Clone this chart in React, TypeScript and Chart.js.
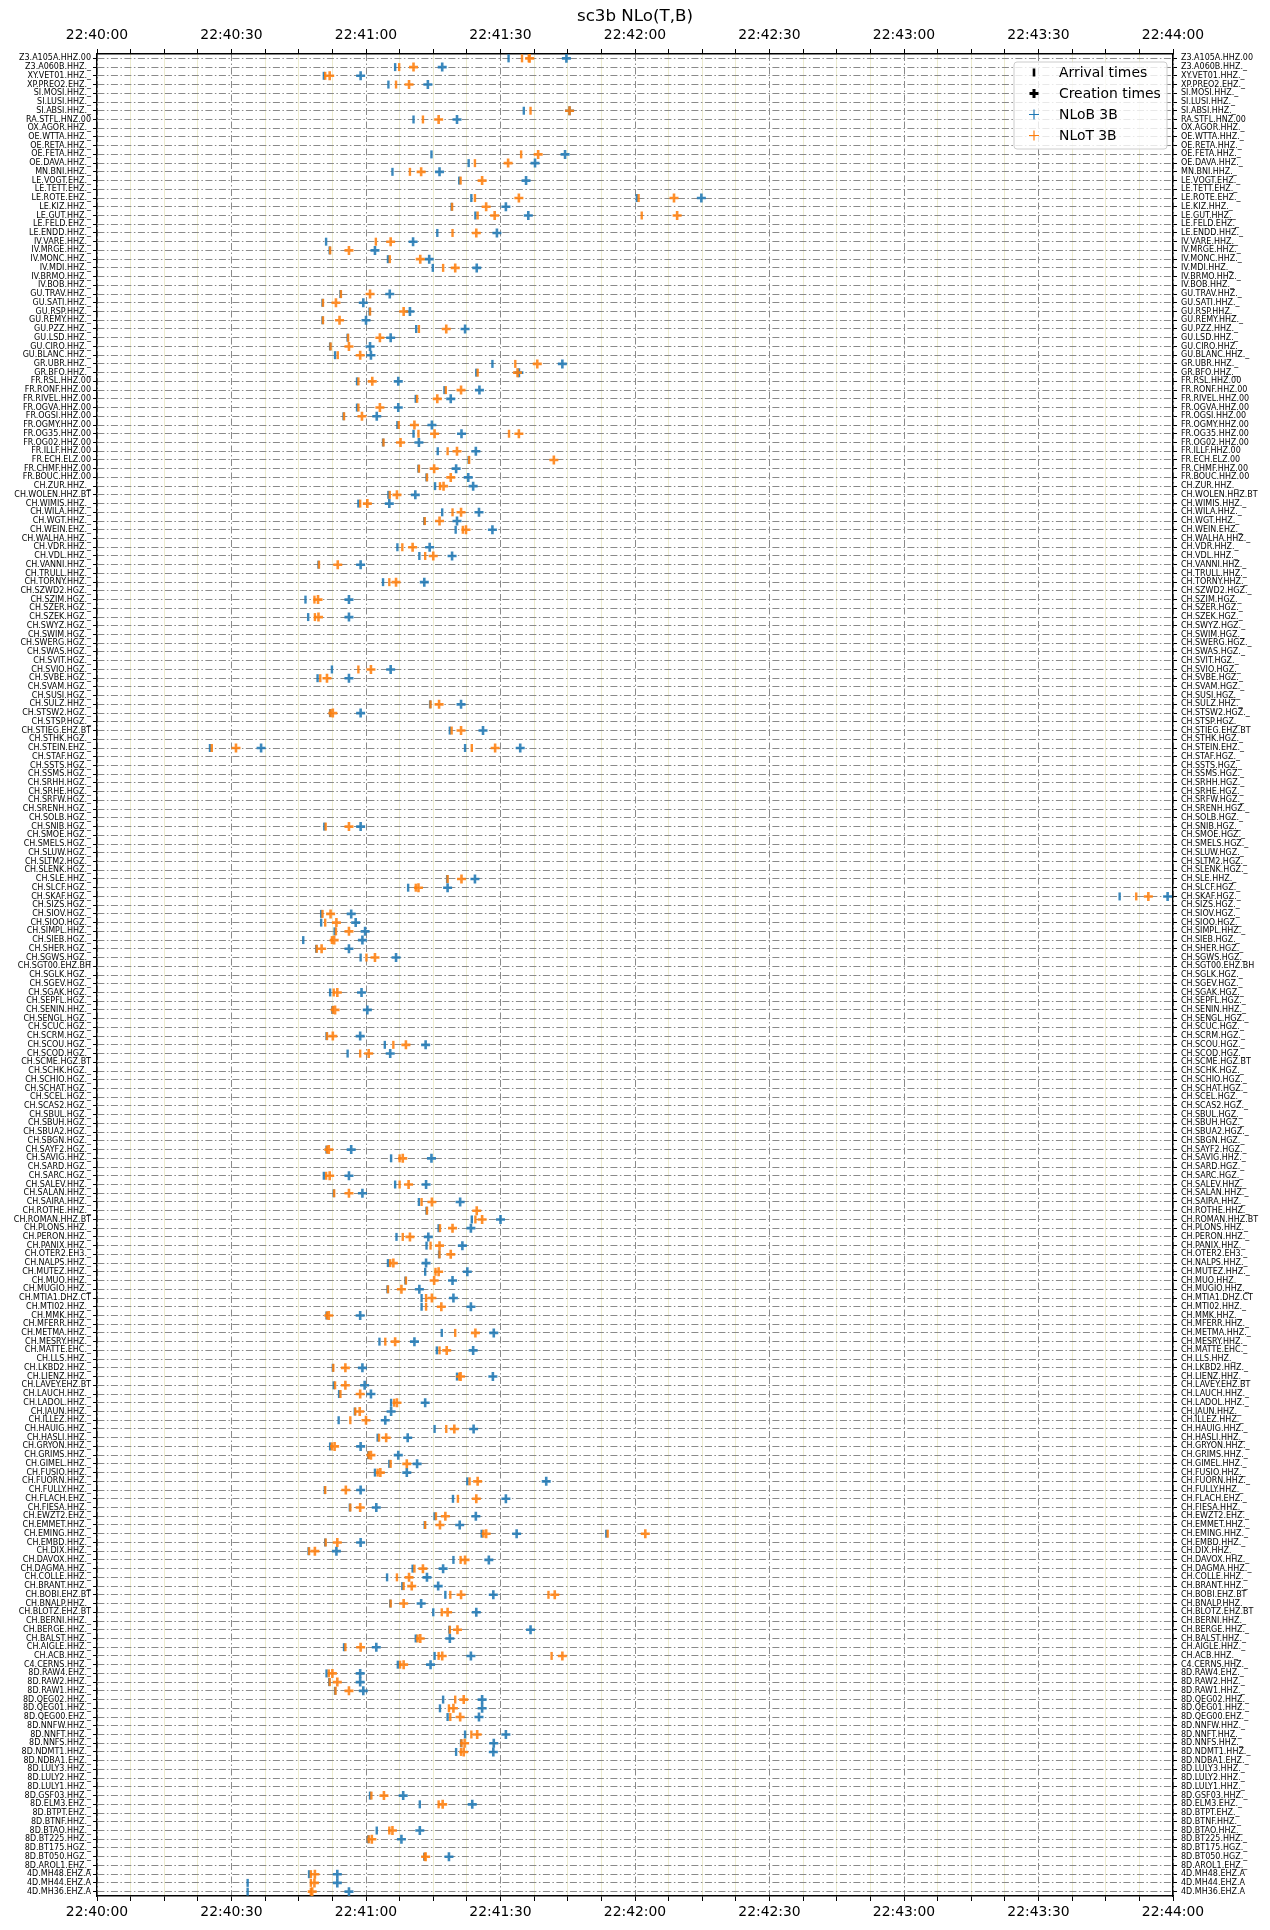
import React, { useEffect, useRef } from "react";
import { Chart, registerables } from "chart.js";

Chart.register(...registerables);

// Station rows, listed top to bottom
const stations: string[] = [
  "Z3.A105A.HHZ.00", "Z3.A060B.HHZ._", "XY.VET01.HHZ._", "XP.PREO2.EHZ._", "SI.MOSI.HHZ._",
  "SI.LUSI.HHZ._", "SI.ABSI.HHZ._", "RA.STFL.HNZ.00", "OX.AGOR.HHZ._", "OE.WTTA.HHZ._",
  "OE.RETA.HHZ._", "OE.FETA.HHZ._", "OE.DAVA.HHZ._", "MN.BNI.HHZ._", "LE.VOGT.EHZ._",
  "LE.TETT.EHZ._", "LE.ROTE.EHZ._", "LE.KIZ.HHZ._", "LE.GUT.HHZ._", "LE.FELD.EHZ._",
  "LE.ENDD.HHZ._", "IV.VARE.HHZ._", "IV.MRGE.HHZ._", "IV.MONC.HHZ._", "IV.MDI.HHZ._",
  "IV.BRMO.HHZ._", "IV.BOB.HHZ._", "GU.TRAV.HHZ._", "GU.SATI.HHZ._", "GU.RSP.HHZ._",
  "GU.REMY.HHZ._", "GU.PZZ.HHZ._", "GU.LSD.HHZ._", "GU.CIRO.HHZ._", "GU.BLANC.HHZ._",
  "GR.UBR.HHZ._", "GR.BFO.HHZ._", "FR.RSL.HHZ.00", "FR.RONF.HHZ.00", "FR.RIVEL.HHZ.00",
  "FR.OGVA.HHZ.00", "FR.OGSI.HHZ.00", "FR.OGMY.HHZ.00", "FR.OG35.HHZ.00", "FR.OG02.HHZ.00",
  "FR.ILLF.HHZ.00", "FR.ECH.ELZ.00", "FR.CHMF.HHZ.00", "FR.BOUC.HHZ.00", "CH.ZUR.HHZ._",
  "CH.WOLEN.HHZ.BT", "CH.WIMIS.HHZ._", "CH.WILA.HHZ._", "CH.WGT.HHZ._", "CH.WEIN.EHZ._",
  "CH.WALHA.HHZ._", "CH.VDR.HHZ._", "CH.VDL.HHZ._", "CH.VANNI.HHZ._", "CH.TRULL.HHZ._",
  "CH.TORNY.HHZ._", "CH.SZWD2.HGZ._", "CH.SZIM.HGZ._", "CH.SZER.HGZ._", "CH.SZEK.HGZ._",
  "CH.SWYZ.HGZ._", "CH.SWIM.HGZ._", "CH.SWERG.HGZ._", "CH.SWAS.HGZ._", "CH.SVIT.HGZ._",
  "CH.SVIO.HGZ._", "CH.SVBE.HGZ._", "CH.SVAM.HGZ._", "CH.SUSI.HGZ._", "CH.SULZ.HHZ._",
  "CH.STSW2.HGZ._", "CH.STSP.HGZ._", "CH.STIEG.EHZ.BT", "CH.STHK.HGZ._", "CH.STEIN.EHZ._",
  "CH.STAF.HGZ._", "CH.SSTS.HGZ._", "CH.SSMS.HGZ._", "CH.SRHH.HGZ._", "CH.SRHE.HGZ._",
  "CH.SRFW.HGZ._", "CH.SRENH.HGZ._", "CH.SOLB.HGZ._", "CH.SNIB.HGZ._", "CH.SMOE.HGZ._",
  "CH.SMELS.HGZ._", "CH.SLUW.HGZ._", "CH.SLTM2.HGZ._", "CH.SLENK.HGZ._", "CH.SLE.HHZ._",
  "CH.SLCF.HGZ._", "CH.SKAF.HGZ._", "CH.SIZS.HGZ._", "CH.SIOV.HGZ._", "CH.SIOO.HGZ._",
  "CH.SIMPL.HHZ._", "CH.SIEB.HGZ._", "CH.SHER.HGZ._", "CH.SGWS.HGZ._", "CH.SGT00.EHZ.BH",
  "CH.SGLK.HGZ._", "CH.SGEV.HGZ._", "CH.SGAK.HGZ._", "CH.SEPFL.HGZ._", "CH.SENIN.HHZ._",
  "CH.SENGL.HGZ._", "CH.SCUC.HGZ._", "CH.SCRM.HGZ._", "CH.SCOU.HGZ._", "CH.SCOD.HGZ._",
  "CH.SCME.HGZ.BT", "CH.SCHK.HGZ._", "CH.SCHIO.HGZ._", "CH.SCHAT.HGZ._", "CH.SCEL.HGZ._",
  "CH.SCAS2.HGZ._", "CH.SBUL.HGZ._", "CH.SBUH.HGZ._", "CH.SBUA2.HGZ._", "CH.SBGN.HGZ._",
  "CH.SAYF2.HGZ._", "CH.SAVIG.HHZ._", "CH.SARD.HGZ._", "CH.SARC.HGZ._", "CH.SALEV.HHZ._",
  "CH.SALAN.HHZ._", "CH.SAIRA.HHZ._", "CH.ROTHE.HHZ._", "CH.ROMAN.HHZ.BT", "CH.PLONS.HHZ._",
  "CH.PERON.HHZ._", "CH.PANIX.HHZ._", "CH.OTER2.EH3._", "CH.NALPS.HHZ._", "CH.MUTEZ.HHZ._",
  "CH.MUO.HHZ._", "CH.MUGIO.HHZ._", "CH.MTIA1.DHZ.CT", "CH.MTI02.HHZ._", "CH.MMK.HHZ._",
  "CH.MFERR.HHZ._", "CH.METMA.HHZ._", "CH.MESRY.HHZ._", "CH.MATTE.EHC._", "CH.LLS.HHZ._",
  "CH.LKBD2.HHZ._", "CH.LIENZ.HHZ._", "CH.LAVEY.EHZ.BT", "CH.LAUCH.HHZ._", "CH.LADOL.HHZ._",
  "CH.JAUN.HHZ._", "CH.ILLEZ.HHZ._", "CH.HAUIG.HHZ._", "CH.HASLI.HHZ._", "CH.GRYON.HHZ._",
  "CH.GRIMS.HHZ._", "CH.GIMEL.HHZ._", "CH.FUSIO.HHZ._", "CH.FUORN.HHZ._", "CH.FULLY.HHZ._",
  "CH.FLACH.EHZ._", "CH.FIESA.HHZ._", "CH.EWZT2.EHZ._", "CH.EMMET.HHZ._", "CH.EMING.HHZ._",
  "CH.EMBD.HHZ._", "CH.DIX.HHZ._", "CH.DAVOX.HHZ._", "CH.DAGMA.HHZ._", "CH.COLLE.HHZ._",
  "CH.BRANT.HHZ._", "CH.BOBI.EHZ.BT", "CH.BNALP.HHZ._", "CH.BLOTZ.EHZ.BT", "CH.BERNI.HHZ._",
  "CH.BERGE.HHZ._", "CH.BALST.HHZ._", "CH.AIGLE.HHZ._", "CH.ACB.HHZ._", "C4.CERNS.HHZ._",
  "8D.RAW4.EHZ._", "8D.RAW2.HHZ._", "8D.RAW1.HHZ._", "8D.QEG02.HHZ._", "8D.QEG01.HHZ._",
  "8D.QEG00.EHZ._", "8D.NNFW.HHZ._", "8D.NNFT.HHZ._", "8D.NNFS.HHZ._", "8D.NDMT1.HHZ._",
  "8D.NDBA1.EHZ._", "8D.LULY3.HHZ._", "8D.LULY2.HHZ._", "8D.LULY1.HHZ._", "8D.GSF03.HHZ._",
  "8D.ELM3.EHZ._", "8D.BTPT.EHZ._", "8D.BTNF.HHZ._", "8D.BTAO.HHZ._", "8D.BT225.HHZ._",
  "8D.BT175.HGZ._", "8D.BT050.HGZ._", "8D.AROL1.EHZ._", "4D.MH48.EHZ.A", "4D.MH44.EHZ.A",
  "4D.MH36.EHZ.A",
];

// Seconds after 22:40:00
const arrivalB: Record<string, number[]> = {
  "Z3.A105A.HHZ.00": [91.8], "Z3.A060B.HHZ._": [66.5], "XY.VET01.HHZ._": [50.6], "XP.PREO2.EHZ._": [65.0],
  "SI.ABSI.HHZ._": [95.2], "RA.STFL.HNZ.00": [70.6], "OE.FETA.HHZ._": [74.6], "OE.DAVA.HHZ._": [82.9],
  "MN.BNI.HHZ._": [65.9], "LE.VOGT.EHZ._": [80.8], "LE.ROTE.EHZ._": [83.5, 120.4], "LE.KIZ.HHZ._": [79.1],
  "LE.GUT.HHZ._": [84.4], "LE.ENDD.HHZ._": [75.9], "IV.VARE.HHZ._": [51.1], "IV.MRGE.HHZ._": [51.9],
  "IV.MONC.HHZ._": [64.9], "IV.MDI.HHZ._": [74.9], "GU.TRAV.HHZ._": [54.3], "GU.SATI.HHZ._": [50.3],
  "GU.RSP.HHZ._": [60.8], "GU.REMY.HHZ._": [50.3], "GU.PZZ.HHZ._": [71.2], "GU.LSD.HHZ._": [55.9],
  "GU.CIRO.HHZ._": [52.0], "GU.BLANC.HHZ._": [53.1], "GR.UBR.HHZ._": [88.2], "GR.BFO.HHZ._": [84.6],
  "FR.RSL.HHZ.00": [58.0], "FR.RONF.HHZ.00": [77.5], "FR.RIVEL.HHZ.00": [71.1], "FR.OGVA.HHZ.00": [58.0],
  "FR.OGSI.HHZ.00": [55.0], "FR.OGMY.HHZ.00": [67.0], "FR.OG35.HHZ.00": [70.6], "FR.OG02.HHZ.00": [63.8],
  "FR.ILLF.HHZ.00": [76.0], "FR.ECH.ELZ.00": [82.9], "FR.CHMF.HHZ.00": [71.7], "FR.BOUC.HHZ.00": [73.5],
  "CH.ZUR.HHZ._": [75.4], "CH.WOLEN.HHZ.BT": [65.0], "CH.WIMIS.HHZ._": [58.3], "CH.WILA.HHZ._": [77.0],
  "CH.WGT.HHZ._": [73.0], "CH.WEIN.EHZ._": [80.0], "CH.VDR.HHZ._": [67.0], "CH.VDL.HHZ._": [71.9],
  "CH.VANNI.HHZ._": [49.4], "CH.TORNY.HHZ._": [63.8], "CH.SZIM.HGZ._": [46.5], "CH.SZEK.HGZ._": [47.1],
  "CH.SVIO.HGZ._": [52.4], "CH.SVBE.HGZ._": [49.2], "CH.SULZ.HHZ._": [74.3], "CH.STSW2.HGZ._": [52.0],
  "CH.STIEG.EHZ.BT": [78.7], "CH.STEIN.EHZ._": [25.2, 82.1], "CH.SNIB.HGZ._": [50.7], "CH.SLE.HHZ._": [78.1],
  "CH.SLCF.HGZ._": [69.4], "CH.SKAF.HGZ._": [228.1], "CH.SIOV.HGZ._": [50.0], "CH.SIOO.HGZ._": [50.0],
  "CH.SIMPL.HHZ._": [53.0], "CH.SIEB.HGZ._": [46.0], "CH.SHER.HGZ._": [48.9], "CH.SGWS.HGZ._": [58.8],
  "CH.SGAK.HGZ._": [52.0], "CH.SENIN.HHZ._": [52.5], "CH.SCRM.HGZ._": [51.2], "CH.SCOU.HGZ._": [64.2],
  "CH.SCOD.HGZ._": [55.9], "CH.SAYF2.HGZ._": [51.2], "CH.SAVIG.HHZ._": [65.6], "CH.SARC.HGZ._": [50.6],
  "CH.SALEV.HHZ._": [66.5], "CH.SALAN.HHZ._": [52.8], "CH.SAIRA.HHZ._": [71.8], "CH.ROTHE.HHZ._": [73.5],
  "CH.ROMAN.HHZ.BT": [83.6], "CH.PLONS.HHZ._": [76.2], "CH.PERON.HHZ._": [66.8], "CH.PANIX.HHZ._": [73.5],
  "CH.OTER2.EH3._": [76.3], "CH.NALPS.HHZ._": [64.9], "CH.MUTEZ.HHZ._": [73.2], "CH.MUO.HHZ._": [68.8],
  "CH.MUGIO.HHZ._": [64.8], "CH.MTIA1.DHZ.CT": [72.4], "CH.MTI02.HHZ._": [72.4], "CH.MMK.HHZ._": [51.2],
  "CH.METMA.HHZ._": [76.9], "CH.MESRY.HHZ._": [63.0], "CH.MATTE.EHC._": [75.8], "CH.LKBD2.HHZ._": [52.6],
  "CH.LIENZ.HHZ._": [80.3], "CH.LAVEY.EHZ.BT": [52.8], "CH.LAUCH.HHZ._": [54.0], "CH.LADOL.HHZ._": [65.6],
  "CH.JAUN.HHZ._": [57.5], "CH.ILLEZ.HHZ._": [53.9], "CH.HAUIG.HHZ._": [75.3], "CH.HASLI.HHZ._": [62.6],
  "CH.GRYON.HHZ._": [52.0], "CH.GRIMS.HHZ._": [60.5], "CH.GIMEL.HHZ._": [65.2], "CH.FUSIO.HHZ._": [62.0],
  "CH.FUORN.HHZ._": [82.6], "CH.FULLY.HHZ._": [50.8], "CH.FLACH.EHZ._": [79.4], "CH.FIESA.HHZ._": [56.4],
  "CH.EWZT2.EHZ._": [75.3], "CH.EMMET.HHZ._": [73.1], "CH.EMING.HHZ._": [85.8, 113.6], "CH.EMBD.HHZ._": [50.9],
  "CH.DIX.HHZ._": [47.2], "CH.DAVOX.HHZ._": [79.5], "CH.DAGMA.HHZ._": [70.4], "CH.COLLE.HHZ._": [64.7],
  "CH.BRANT.HHZ._": [68.1], "CH.BOBI.EHZ.BT": [77.7], "CH.BNALP.HHZ._": [65.4], "CH.BLOTZ.EHZ.BT": [75.0],
  "CH.BERGE.HHZ._": [78.6], "CH.BALST.HHZ._": [71.1], "CH.AIGLE.HHZ._": [55.1], "CH.ACB.HHZ._": [75.3],
  "C4.CERNS.HHZ._": [67.1], "8D.RAW4.EHZ._": [51.2], "8D.RAW2.HHZ._": [51.8], "8D.RAW1.HHZ._": [53.1],
  "8D.QEG02.HHZ._": [77.2], "8D.QEG01.HHZ._": [76.5], "8D.QEG00.EHZ._": [78.2], "8D.NNFT.HHZ._": [82.1],
  "8D.NNFS.HHZ._": [81.2], "8D.NDMT1.HHZ._": [80.1], "8D.GSF03.HHZ._": [60.9], "8D.ELM3.EHZ._": [72.0],
  "8D.BTAO.HHZ._": [62.4], "8D.BT225.HHZ._": [60.5], "8D.BT050.HGZ._": [73.0], "4D.MH48.EHZ.A": [47.3],
  "4D.MH44.EHZ.A": [33.6], "4D.MH36.EHZ.A": [33.6],
};

const arrivalT: Record<string, number[]> = {
  "Z3.A105A.HHZ.00": [94.8, 96.3], "Z3.A060B.HHZ._": [67.4], "XY.VET01.HHZ._": [50.9], "XP.PREO2.EHZ._": [66.7],
  "SI.ABSI.HHZ._": [96.7], "RA.STFL.HNZ.00": [72.7], "OE.FETA.HHZ._": [94.6], "OE.DAVA.HHZ._": [84.3],
  "MN.BNI.HHZ._": [69.8], "LE.VOGT.EHZ._": [81.1], "LE.ROTE.EHZ._": [84.3, 120.8], "LE.KIZ.HHZ._": [79.2],
  "LE.GUT.HHZ._": [84.9, 121.5], "LE.ENDD.HHZ._": [79.3], "IV.VARE.HHZ._": [62.2], "IV.MRGE.HHZ._": [52.0],
  "IV.MONC.HHZ._": [65.3], "IV.MDI.HHZ._": [77.2], "GU.TRAV.HHZ._": [54.4], "GU.SATI.HHZ._": [50.4],
  "GU.RSP.HHZ._": [60.9], "GU.REMY.HHZ._": [50.4], "GU.PZZ.HHZ._": [71.8], "GU.LSD.HHZ._": [56.0],
  "GU.CIRO.HHZ._": [52.1], "GU.BLANC.HHZ._": [53.7], "GR.UBR.HHZ._": [93.3], "GR.BFO.HHZ._": [84.9],
  "FR.RSL.HHZ.00": [58.3], "FR.RONF.HHZ.00": [77.8], "FR.RIVEL.HHZ.00": [71.4], "FR.OGVA.HHZ.00": [58.3],
  "FR.OGSI.HHZ.00": [55.1], "FR.OGMY.HHZ.00": [67.3], "FR.OG35.HHZ.00": [71.7, 91.9], "FR.OG02.HHZ.00": [63.9],
  "FR.ILLF.HHZ.00": [78.2], "FR.ECH.ELZ.00": [83.0], "FR.CHMF.HHZ.00": [71.8], "FR.BOUC.HHZ.00": [73.6],
  "CH.ZUR.HHZ._": [76.5], "CH.WOLEN.HHZ.BT": [65.3], "CH.WIMIS.HHZ._": [58.7], "CH.WILA.HHZ._": [79.3],
  "CH.WGT.HHZ._": [73.1], "CH.WEIN.EHZ._": [81.6], "CH.VDR.HHZ._": [68.1], "CH.VDL.HHZ._": [73.2],
  "CH.VANNI.HHZ._": [49.5], "CH.TORNY.HHZ._": [65.2], "CH.SZIM.HGZ._": [48.5], "CH.SZEK.HGZ._": [48.6],
  "CH.SVIO.HGZ._": [58.3], "CH.SVBE.HGZ._": [49.8], "CH.SULZ.HHZ._": [74.4], "CH.STSW2.HGZ._": [52.1],
  "CH.STIEG.EHZ.BT": [79.1], "CH.STEIN.EHZ._": [25.6, 83.6], "CH.SNIB.HGZ._": [51.0], "CH.SLE.HHZ._": [78.2],
  "CH.SLCF.HGZ._": [71.1], "CH.SKAF.HGZ._": [231.8], "CH.SIOV.HGZ._": [50.3], "CH.SIOO.HGZ._": [50.9],
  "CH.SIMPL.HHZ._": [53.3], "CH.SIEB.HGZ._": [52.4], "CH.SHER.HGZ._": [49.0], "CH.SGWS.HGZ._": [60.1],
  "CH.SGAK.HGZ._": [52.8], "CH.SENIN.HHZ._": [52.6], "CH.SCRM.HGZ._": [51.3], "CH.SCOU.HGZ._": [66.1],
  "CH.SCOD.HGZ._": [58.7], "CH.SAYF2.HGZ._": [51.3], "CH.SAVIG.HHZ._": [67.5], "CH.SARC.HGZ._": [51.1],
  "CH.SALEV.HHZ._": [67.5], "CH.SALAN.HHZ._": [52.9], "CH.SAIRA.HHZ._": [72.4], "CH.ROTHE.HHZ._": [73.6],
  "CH.ROMAN.HHZ.BT": [84.4], "CH.PLONS.HHZ._": [76.5], "CH.PERON.HHZ._": [68.2], "CH.PANIX.HHZ._": [74.4],
  "CH.OTER2.EH3._": [76.4], "CH.NALPS.HHZ._": [65.4], "CH.MUTEZ.HHZ._": [75.5], "CH.MUO.HHZ._": [68.9],
  "CH.MUGIO.HHZ._": [64.9], "CH.MTIA1.DHZ.CT": [73.4], "CH.MTI02.HHZ._": [73.4], "CH.MMK.HHZ._": [51.3],
  "CH.METMA.HHZ._": [79.9], "CH.MESRY.HHZ._": [64.3], "CH.MATTE.EHC._": [76.4], "CH.LKBD2.HHZ._": [52.7],
  "CH.LIENZ.HHZ._": [80.8], "CH.LAVEY.EHZ.BT": [53.1], "CH.LAUCH.HHZ._": [54.3], "CH.LADOL.HHZ._": [66.3],
  "CH.JAUN.HHZ._": [57.6], "CH.ILLEZ.HHZ._": [56.5], "CH.HAUIG.HHZ._": [77.9], "CH.HASLI.HHZ._": [62.9],
  "CH.GRYON.HHZ._": [52.4], "CH.GRIMS.HHZ._": [60.6], "CH.GIMEL.HHZ._": [65.5], "CH.FUSIO.HHZ._": [62.6],
  "CH.FUORN.HHZ._": [83.1], "CH.FULLY.HHZ._": [50.9], "CH.FLACH.EHZ._": [80.5], "CH.FIESA.HHZ._": [56.5],
  "CH.EWZT2.EHZ._": [75.6], "CH.EMMET.HHZ._": [73.2], "CH.EMING.HHZ._": [86.2, 113.9], "CH.EMBD.HHZ._": [51.0],
  "CH.DIX.HHZ._": [47.3], "CH.DAVOX.HHZ._": [81.1], "CH.DAGMA.HHZ._": [70.8], "CH.COLLE.HHZ._": [66.9],
  "CH.BRANT.HHZ._": [68.4], "CH.BOBI.EHZ.BT": [78.8, 100.7], "CH.BNALP.HHZ._": [65.5], "CH.BLOTZ.EHZ.BT": [76.9],
  "CH.BERGE.HHZ._": [78.7], "CH.BALST.HHZ._": [71.5], "CH.AIGLE.HHZ._": [55.4], "CH.ACB.HHZ._": [76.2, 101.4],
  "C4.CERNS.HHZ._": [67.6], "8D.RAW4.EHZ._": [51.7], "8D.RAW2.HHZ._": [51.9], "8D.RAW1.HHZ._": [53.2],
  "8D.QEG02.HHZ._": [79.9], "8D.QEG01.HHZ._": [78.5], "8D.QEG00.EHZ._": [78.8], "8D.NNFT.HHZ._": [83.5],
  "8D.NNFS.HHZ._": [81.3], "8D.NDMT1.HHZ._": [81.2], "8D.GSF03.HHZ._": [61.2], "8D.ELM3.EHZ._": [76.2],
  "8D.BTAO.HHZ._": [65.2], "8D.BT225.HHZ._": [60.6], "8D.BT050.HGZ._": [73.1], "4D.MH48.EHZ.A": [47.7],
  "4D.MH44.EHZ.A": [47.7], "4D.MH36.EHZ.A": [47.7],
};

const creationT: Record<string, number[]> = {
  "Z3.A105A.HHZ.00": [96.5], "Z3.A060B.HHZ._": [70.6], "XY.VET01.HHZ._": [51.9], "XP.PREO2.EHZ._": [69.6],
  "SI.ABSI.HHZ._": [105.4], "RA.STFL.HNZ.00": [76.2], "OE.FETA.HHZ._": [98.4], "OE.DAVA.HHZ._": [91.7],
  "MN.BNI.HHZ._": [72.3], "LE.VOGT.EHZ._": [85.9], "LE.ROTE.EHZ._": [94.1, 128.7], "LE.KIZ.HHZ._": [86.8],
  "LE.GUT.HHZ._": [88.7, 129.4], "LE.ENDD.HHZ._": [84.6], "IV.VARE.HHZ._": [65.5], "IV.MRGE.HHZ._": [56.2],
  "IV.MONC.HHZ._": [72.1], "IV.MDI.HHZ._": [79.9], "GU.TRAV.HHZ._": [60.9], "GU.SATI.HHZ._": [53.3],
  "GU.RSP.HHZ._": [68.4], "GU.REMY.HHZ._": [54.1], "GU.PZZ.HHZ._": [77.9], "GU.LSD.HHZ._": [63.1],
  "GU.CIRO.HHZ._": [56.2], "GU.BLANC.HHZ._": [58.7], "GR.UBR.HHZ._": [98.2], "GR.BFO.HHZ._": [93.8],
  "FR.RSL.HHZ.00": [61.4], "FR.RONF.HHZ.00": [81.2], "FR.RIVEL.HHZ.00": [75.9], "FR.OGVA.HHZ.00": [63.1],
  "FR.OGSI.HHZ.00": [59.1], "FR.OGMY.HHZ.00": [70.8], "FR.OG35.HHZ.00": [75.3, 94.1], "FR.OG02.HHZ.00": [67.7],
  "FR.ILLF.HHZ.00": [80.3], "FR.ECH.ELZ.00": [101.9], "FR.CHMF.HHZ.00": [75.2], "FR.BOUC.HHZ.00": [78.9],
  "CH.ZUR.HHZ._": [77.3], "CH.WOLEN.HHZ.BT": [66.9], "CH.WIMIS.HHZ._": [60.3], "CH.WILA.HHZ._": [81.2],
  "CH.WGT.HHZ._": [76.4], "CH.WEIN.EHZ._": [82.3], "CH.VDR.HHZ._": [70.4], "CH.VDL.HHZ._": [75.0],
  "CH.VANNI.HHZ._": [53.7], "CH.TORNY.HHZ._": [66.7], "CH.SZIM.HGZ._": [49.3], "CH.SZEK.HGZ._": [49.4],
  "CH.SVIO.HGZ._": [61.1], "CH.SVBE.HGZ._": [51.3], "CH.SULZ.HHZ._": [76.3], "CH.STSW2.HGZ._": [52.6],
  "CH.STIEG.EHZ.BT": [81.2], "CH.STEIN.EHZ._": [31.0, 88.8], "CH.SNIB.HGZ._": [56.2], "CH.SLE.HHZ._": [81.3],
  "CH.SLCF.HGZ._": [71.7], "CH.SKAF.HGZ._": [234.5], "CH.SIOV.HGZ._": [52.1], "CH.SIOO.HGZ._": [53.4],
  "CH.SIMPL.HHZ._": [56.2], "CH.SIEB.HGZ._": [52.9], "CH.SHER.HGZ._": [50.1], "CH.SGWS.HGZ._": [62.0],
  "CH.SGAK.HGZ._": [53.6], "CH.SENIN.HHZ._": [53.1], "CH.SCRM.HGZ._": [52.6], "CH.SCOU.HGZ._": [68.9],
  "CH.SCOD.HGZ._": [60.6], "CH.SAYF2.HGZ._": [51.7], "CH.SAVIG.HHZ._": [68.2], "CH.SARC.HGZ._": [51.9],
  "CH.SALEV.HHZ._": [69.5], "CH.SALAN.HHZ._": [56.2], "CH.SAIRA.HHZ._": [74.7], "CH.ROTHE.HHZ._": [84.7],
  "CH.ROMAN.HHZ.BT": [85.9], "CH.PLONS.HHZ._": [79.3], "CH.PERON.HHZ._": [69.8], "CH.PANIX.HHZ._": [76.4],
  "CH.OTER2.EH3._": [78.9], "CH.NALPS.HHZ._": [66.1], "CH.MUTEZ.HHZ._": [76.2], "CH.MUO.HHZ._": [75.2],
  "CH.MUGIO.HHZ._": [67.9], "CH.MTIA1.DHZ.CT": [74.7], "CH.MTI02.HHZ._": [76.8], "CH.MMK.HHZ._": [51.7],
  "CH.METMA.HHZ._": [84.4], "CH.MESRY.HHZ._": [66.5], "CH.MATTE.EHC._": [78.0], "CH.LKBD2.HHZ._": [55.4],
  "CH.LIENZ.HHZ._": [81.1], "CH.LAVEY.EHZ.BT": [55.4], "CH.LAUCH.HHZ._": [58.7], "CH.LADOL.HHZ._": [66.9],
  "CH.JAUN.HHZ._": [58.6], "CH.ILLEZ.HHZ._": [60.0], "CH.HAUIG.HHZ._": [79.7], "CH.HASLI.HHZ._": [64.5],
  "CH.GRYON.HHZ._": [53.0], "CH.GRIMS.HHZ._": [61.1], "CH.GIMEL.HHZ._": [69.1], "CH.FUSIO.HHZ._": [63.2],
  "CH.FUORN.HHZ._": [84.9], "CH.FULLY.HHZ._": [55.5], "CH.FLACH.EHZ._": [84.6], "CH.FIESA.HHZ._": [58.7],
  "CH.EWZT2.EHZ._": [77.7], "CH.EMMET.HHZ._": [76.5], "CH.EMING.HHZ._": [86.8, 122.3], "CH.EMBD.HHZ._": [53.6],
  "CH.DIX.HHZ._": [48.6], "CH.DAVOX.HHZ._": [82.1], "CH.DAGMA.HHZ._": [72.7], "CH.COLLE.HHZ._": [69.6],
  "CH.BRANT.HHZ._": [70.2], "CH.BOBI.EHZ.BT": [81.2, 102.1], "CH.BNALP.HHZ._": [68.4], "CH.BLOTZ.EHZ.BT": [78.2],
  "CH.BERGE.HHZ._": [80.4], "CH.BALST.HHZ._": [72.1], "CH.AIGLE.HHZ._": [58.8], "CH.ACB.HHZ._": [77.0, 103.8],
  "C4.CERNS.HHZ._": [68.4], "8D.RAW4.EHZ._": [52.5], "8D.RAW2.HHZ._": [53.6], "8D.RAW1.HHZ._": [56.2],
  "8D.QEG02.HHZ._": [81.8], "8D.QEG01.HHZ._": [79.5], "8D.QEG00.EHZ._": [81.0], "8D.NNFT.HHZ._": [84.8],
  "8D.NNFS.HHZ._": [82.0], "8D.NDMT1.HHZ._": [81.8], "8D.GSF03.HHZ._": [64.0], "8D.ELM3.EHZ._": [77.1],
  "8D.BTAO.HHZ._": [65.9], "8D.BT225.HHZ._": [61.3], "8D.BT050.HGZ._": [73.3], "4D.MH48.EHZ.A": [48.6],
  "4D.MH44.EHZ.A": [48.5], "4D.MH36.EHZ.A": [48.0],
};

const creationB: Record<string, number[]> = {
  "Z3.A105A.HHZ.00": [104.7], "Z3.A060B.HHZ._": [77.0], "XY.VET01.HHZ._": [58.8], "XP.PREO2.EHZ._": [73.8],
  "SI.ABSI.HHZ._": [105.4], "RA.STFL.HNZ.00": [80.3], "OE.FETA.HHZ._": [104.4], "OE.DAVA.HHZ._": [97.7],
  "MN.BNI.HHZ._": [76.4], "LE.VOGT.EHZ._": [95.7], "LE.ROTE.EHZ._": [134.8], "LE.KIZ.HHZ._": [91.2],
  "LE.GUT.HHZ._": [96.2], "LE.ENDD.HHZ._": [89.2], "IV.VARE.HHZ._": [70.5], "IV.MRGE.HHZ._": [62.0],
  "IV.MONC.HHZ._": [74.1], "IV.MDI.HHZ._": [84.7], "GU.TRAV.HHZ._": [65.3], "GU.SATI.HHZ._": [59.4],
  "GU.RSP.HHZ._": [69.8], "GU.REMY.HHZ._": [60.0], "GU.PZZ.HHZ._": [82.1], "GU.LSD.HHZ._": [65.5],
  "GU.CIRO.HHZ._": [60.9], "GU.BLANC.HHZ._": [61.1], "GR.UBR.HHZ._": [103.8], "GR.BFO.HHZ._": [94.1],
  "FR.RSL.HHZ.00": [67.2], "FR.RONF.HHZ.00": [85.3], "FR.RIVEL.HHZ.00": [78.9], "FR.OGVA.HHZ.00": [67.2],
  "FR.OGSI.HHZ.00": [62.4], "FR.OGMY.HHZ.00": [74.7], "FR.OG35.HHZ.00": [81.3], "FR.OG02.HHZ.00": [71.8],
  "FR.ILLF.HHZ.00": [84.5], "FR.CHMF.HHZ.00": [80.1], "FR.BOUC.HHZ.00": [82.8], "CH.ZUR.HHZ._": [83.9],
  "CH.WOLEN.HHZ.BT": [71.0], "CH.WIMIS.HHZ._": [65.2], "CH.WILA.HHZ._": [85.2], "CH.WGT.HHZ._": [80.3],
  "CH.WEIN.EHZ._": [88.2], "CH.VDR.HHZ._": [74.2], "CH.VDL.HHZ._": [79.2], "CH.VANNI.HHZ._": [58.8],
  "CH.TORNY.HHZ._": [73.0], "CH.SZIM.HGZ._": [56.2], "CH.SZEK.HGZ._": [56.2], "CH.SVIO.HGZ._": [65.5],
  "CH.SVBE.HGZ._": [56.2], "CH.SULZ.HHZ._": [81.2], "CH.STSW2.HGZ._": [58.8], "CH.STIEG.EHZ.BT": [86.1],
  "CH.STEIN.EHZ._": [36.6, 94.4], "CH.SNIB.HGZ._": [58.8], "CH.SLE.HHZ._": [84.3], "CH.SLCF.HGZ._": [78.2],
  "CH.SKAF.HGZ._": [238.8], "CH.SIOV.HGZ._": [56.7], "CH.SIOO.HGZ._": [57.7], "CH.SIMPL.HHZ._": [59.8],
  "CH.SIEB.HGZ._": [59.2], "CH.SHER.HGZ._": [56.2], "CH.SGWS.HGZ._": [66.7], "CH.SGAK.HGZ._": [59.0],
  "CH.SENIN.HHZ._": [60.3], "CH.SCRM.HGZ._": [58.7], "CH.SCOU.HGZ._": [73.3], "CH.SCOD.HGZ._": [65.4],
  "CH.SAYF2.HGZ._": [56.7], "CH.SAVIG.HHZ._": [74.6], "CH.SARC.HGZ._": [56.2], "CH.SALEV.HHZ._": [73.4],
  "CH.SALAN.HHZ._": [59.2], "CH.SAIRA.HHZ._": [81.0], "CH.ROMAN.HHZ.BT": [90.0], "CH.PLONS.HHZ._": [83.4],
  "CH.PERON.HHZ._": [73.9], "CH.PANIX.HHZ._": [81.5], "CH.NALPS.HHZ._": [73.4], "CH.MUTEZ.HHZ._": [82.6],
  "CH.MUO.HHZ._": [79.3], "CH.MUGIO.HHZ._": [71.9], "CH.MTIA1.DHZ.CT": [79.5], "CH.MTI02.HHZ._": [83.4],
  "CH.MMK.HHZ._": [58.7], "CH.METMA.HHZ._": [88.5], "CH.MESRY.HHZ._": [70.8], "CH.MATTE.EHC._": [83.9],
  "CH.LKBD2.HHZ._": [59.2], "CH.LIENZ.HHZ._": [88.3], "CH.LAVEY.EHZ.BT": [59.7], "CH.LAUCH.HHZ._": [61.1],
  "CH.LADOL.HHZ._": [73.2], "CH.JAUN.HHZ._": [65.6], "CH.ILLEZ.HHZ._": [64.3], "CH.HAUIG.HHZ._": [84.0],
  "CH.HASLI.HHZ._": [69.3], "CH.GRYON.HHZ._": [58.8], "CH.GRIMS.HHZ._": [67.2], "CH.GIMEL.HHZ._": [71.4],
  "CH.FUSIO.HHZ._": [69.1], "CH.FUORN.HHZ._": [100.2], "CH.FULLY.HHZ._": [58.8], "CH.FLACH.EHZ._": [91.2],
  "CH.FIESA.HHZ._": [62.3], "CH.EWZT2.EHZ._": [84.5], "CH.EMMET.HHZ._": [80.9], "CH.EMING.HHZ._": [93.6],
  "CH.EMBD.HHZ._": [58.8], "CH.DIX.HHZ._": [53.4], "CH.DAVOX.HHZ._": [87.4], "CH.DAGMA.HHZ._": [77.2],
  "CH.COLLE.HHZ._": [73.6], "CH.BRANT.HHZ._": [76.1], "CH.BOBI.EHZ.BT": [88.4], "CH.BNALP.HHZ._": [72.3],
  "CH.BLOTZ.EHZ.BT": [84.6], "CH.BERGE.HHZ._": [96.7], "CH.BALST.HHZ._": [78.7], "CH.AIGLE.HHZ._": [62.3],
  "CH.ACB.HHZ._": [83.4], "C4.CERNS.HHZ._": [74.4], "8D.RAW4.EHZ._": [58.7], "8D.RAW2.HHZ._": [58.7],
  "8D.RAW1.HHZ._": [59.4], "8D.QEG02.HHZ._": [85.9], "8D.QEG01.HHZ._": [85.9], "8D.QEG00.EHZ._": [85.2],
  "8D.NNFT.HHZ._": [91.2], "8D.NNFS.HHZ._": [88.5], "8D.NDMT1.HHZ._": [88.4], "8D.GSF03.HHZ._": [68.3],
  "8D.ELM3.EHZ._": [83.7], "8D.BTAO.HHZ._": [72.0], "8D.BT225.HHZ._": [67.9], "8D.BT050.HGZ._": [78.5],
  "4D.MH48.EHZ.A": [53.6], "4D.MH44.EHZ.A": [53.6], "4D.MH36.EHZ.A": [56.2],
};

// Time axis (seconds after 22:40:00)
const timeMin = 0;
const timeMax = 240;
const majorTimeTicks = [0, 30, 60, 90, 120, 150, 180, 210, 240];
const minorTimeStep = 7.5;
const startClockSeconds = 22 * 3600 + 40 * 60;

const BLUE = "rgba(31,119,180,0.88)";
const ORANGE = "rgba(255,127,14,0.88)";
const GRID_GRAY = "#8a8a8a";
const MINOR_GRID = "#ecebcf";
const DASHDOT = [7, 2.5, 1.5, 2.5];
const FONT = "'DejaVu Sans', 'Liberation Sans', sans-serif";

function clockLabel(sec: number): string {
  const t = startClockSeconds + sec;
  const h = Math.floor(t / 3600);
  const m = Math.floor((t % 3600) / 60);
  const s = Math.round(t % 60);
  const p = (n: number) => String(n).padStart(2, "0");
  return `${p(h)}:${p(m)}:${p(s)}`;
}

function toPoints(rec: Record<string, number[]>) {
  const pts: { x: number; y: number }[] = [];
  stations.forEach((name, i) => {
    (rec[name] || []).forEach((x) => pts.push({ x, y: i }));
  });
  return pts;
}

function allTimeTicks() {
  const out: { value: number }[] = [];
  for (let i = 0; i < majorTimeTicks.length; i++) {
    out.push({ value: majorTimeTicks[i] });
    if (i < majorTimeTicks.length - 1) {
      for (let v = majorTimeTicks[i] + minorTimeStep; v < majorTimeTicks[i + 1] - 1e-6; v += minorTimeStep) {
        out.push({ value: v });
      }
    }
  }
  return out;
}

const isMajor = (v: number) => majorTimeTicks.some((m) => Math.abs(m - v) < 1e-6);

const legendItems = [
  { label: "Arrival times", kind: "bar", color: "#000" },
  { label: "Creation times", kind: "boldplus", color: "#000" },
  { label: "NLoB 3B", kind: "plus", color: "#1f77b4" },
  { label: "NLoT 3B", kind: "plus", color: "#ff7f0e" },
];

const decorPlugin = {
  id: "decor",
  afterDraw(chart: any) {
    const ctx = chart.ctx as CanvasRenderingContext2D;
    const area = chart.chartArea;
    ctx.save();
    // title
    ctx.fillStyle = "#000";
    ctx.font = `16.7px ${FONT}`;
    ctx.textAlign = "center";
    ctx.textBaseline = "middle";
    ctx.fillText("sc3b NLo(T,B)", (area.left + area.right) / 2, 17);

    // legend
    const bx = 1014, by = 62, bw = 153, bh = 87;
    ctx.beginPath();
    const r = 3;
    ctx.moveTo(bx + r, by);
    ctx.lineTo(bx + bw - r, by);
    ctx.quadraticCurveTo(bx + bw, by, bx + bw, by + r);
    ctx.lineTo(bx + bw, by + bh - r);
    ctx.quadraticCurveTo(bx + bw, by + bh, bx + bw - r, by + bh);
    ctx.lineTo(bx + r, by + bh);
    ctx.quadraticCurveTo(bx, by + bh, bx, by + bh - r);
    ctx.lineTo(bx, by + r);
    ctx.quadraticCurveTo(bx, by, bx + r, by);
    ctx.closePath();
    ctx.fillStyle = "rgba(255,255,255,0.8)";
    ctx.fill();
    ctx.strokeStyle = "#cccccc";
    ctx.lineWidth = 1;
    ctx.stroke();

    ctx.font = `13.9px ${FONT}`;
    ctx.textAlign = "left";
    ctx.textBaseline = "middle";
    legendItems.forEach((it, i) => {
      const cy = by + 10.5 + i * 21;
      const mx = 1034;
      ctx.strokeStyle = it.color;
      ctx.lineCap = "butt";
      if (it.kind === "bar") {
        ctx.lineWidth = 2.6;
        ctx.beginPath();
        ctx.moveTo(mx, cy - 4);
        ctx.lineTo(mx, cy + 4);
        ctx.stroke();
      } else if (it.kind === "boldplus") {
        ctx.lineWidth = 3;
        ctx.beginPath();
        ctx.moveTo(mx - 4.5, cy);
        ctx.lineTo(mx + 4.5, cy);
        ctx.moveTo(mx, cy - 4.5);
        ctx.lineTo(mx, cy + 4.5);
        ctx.stroke();
      } else {
        ctx.lineWidth = 1.2;
        ctx.beginPath();
        ctx.moveTo(mx - 5, cy);
        ctx.lineTo(mx + 5, cy);
        ctx.moveTo(mx, cy - 5);
        ctx.lineTo(mx, cy + 5);
        ctx.stroke();
      }
      ctx.fillStyle = "#000";
      ctx.fillText(it.label, 1059, cy + 0.5);
    });
    ctx.restore();
  },
};

export default function App() {
  const canvasRef = useRef<HTMLCanvasElement | null>(null);

  useEffect(() => {
    const canvas = canvasRef.current;
    if (!canvas) return;

    const n = stations.length;
    const yTicks = (scale: any) => {
      scale.ticks = stations.map((_, i) => ({ value: i }));
    };
    const xTicks = (scale: any) => {
      scale.ticks = allTimeTicks();
    };

    const yCommon = {
      type: "linear" as const,
      min: -0.5,
      max: n - 0.5,
      reverse: true,
      afterBuildTicks: yTicks,
      border: { display: true, color: "#000", width: 1.4, dash: DASHDOT },
      ticks: {
        autoSkip: false,
        color: "#000",
        font: { size: 8, family: FONT },
        callback: (v: any) => stations[Math.round(Number(v))] ?? "",
      },
    };

    const xTickOpts = {
      autoSkip: false,
      maxRotation: 0,
      minRotation: 0,
      color: "#000",
      font: { size: 13.9, family: FONT },
      padding: 3,
      callback: (v: any) => (isMajor(Number(v)) ? clockLabel(Number(v)) : ""),
    };

    const xDash = (c: any) => (c && c.tick && !isMajor(c.tick.value) ? [] : DASHDOT);

    const chart = new Chart(canvas, {
      type: "scatter",
      data: {
        datasets: [
          {
            label: "NLoT creation",
            data: toPoints(creationT),
            pointStyle: "cross",
            radius: 4.5,
            borderWidth: 2.6,
            borderColor: ORANGE,
            backgroundColor: ORANGE,
            order: 0,
          },
          {
            label: "NLoT arrival",
            data: toPoints(arrivalT),
            pointStyle: "line",
            rotation: 90,
            radius: 4,
            borderWidth: 2.4,
            borderColor: ORANGE,
            backgroundColor: ORANGE,
            order: 1,
          },
          {
            label: "NLoB creation",
            data: toPoints(creationB),
            pointStyle: "cross",
            radius: 4.5,
            borderWidth: 2.6,
            borderColor: BLUE,
            backgroundColor: BLUE,
            order: 2,
          },
          {
            label: "NLoB arrival",
            data: toPoints(arrivalB),
            pointStyle: "line",
            rotation: 90,
            radius: 4,
            borderWidth: 2.4,
            borderColor: BLUE,
            backgroundColor: BLUE,
            order: 3,
          },
        ] as any,
      },
      options: {
        responsive: false,
        devicePixelRatio: 1,
        animation: false,
        events: [],
        layout: { padding: 0 },
        plugins: {
          legend: { display: false },
          tooltip: { enabled: false },
          title: { display: false },
        },
        scales: {
          x: {
            type: "linear",
            position: "bottom",
            min: timeMin,
            max: timeMax,
            afterBuildTicks: xTicks,
            afterFit: (s: any) => {
              s.height = 34;
            },
            grid: {
              display: true,
              drawOnChartArea: true,
              drawTicks: true,
              tickLength: 5,
              lineWidth: 1,
              color: (c: any) => (c.tick && !isMajor(c.tick.value) ? MINOR_GRID : GRID_GRAY),
              tickColor: "#000",
            },
            border: { display: true, color: "#000", width: 1.4, dash: xDash },
            ticks: xTickOpts,
          },
          x2: {
            type: "linear",
            position: "top",
            min: timeMin,
            max: timeMax,
            afterBuildTicks: xTicks,
            afterFit: (s: any) => {
              s.height = 54;
            },
            grid: {
              display: true,
              drawOnChartArea: false,
              drawTicks: true,
              tickLength: 5,
              tickColor: "#000",
            },
            border: { display: true, color: "#000", width: 1.4 },
            ticks: { ...xTickOpts, padding: 5 },
          },
          y: {
            ...yCommon,
            position: "left",
            afterFit: (s: any) => {
              s.width = 97;
            },
            grid: {
              display: true,
              drawOnChartArea: true,
              drawTicks: true,
              tickLength: 4,
              lineWidth: 1,
              color: GRID_GRAY,
              tickColor: "#000",
            },
            ticks: { ...yCommon.ticks, padding: 2 },
          },
          y2: {
            ...yCommon,
            position: "right",
            afterFit: (s: any) => {
              s.width = 97;
            },
            grid: {
              display: true,
              drawOnChartArea: false,
              drawTicks: true,
              tickLength: 4,
              tickColor: "#000",
            },
            border: { display: true, color: "#000", width: 1.4 },
            ticks: { ...yCommon.ticks, padding: 4 },
          },
        } as any,
      },
      plugins: [decorPlugin],
    });

    return () => {
      chart.destroy();
    };
  }, []);

  return (
    <div style={{ position: "absolute", left: 0, top: 0, width: 1270, height: 1930, background: "#fff" }}>
      <canvas ref={canvasRef} width={1270} height={1930} style={{ width: 1270, height: 1930, display: "block" }} />
    </div>
  );
}
